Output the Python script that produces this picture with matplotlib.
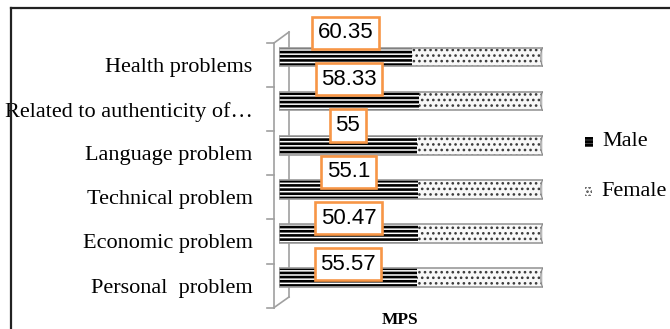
import matplotlib
matplotlib.use("Agg")
import matplotlib.pyplot as plt
from matplotlib.patches import Rectangle, Ellipse
from matplotlib.lines import Line2D
import numpy as np

categories = ["Personal  problem", "Economic problem", "Technical problem",
              "Language problem", "Related to authenticity of\u2026", "Health problems"]
male = [55.57, 50.47, 55.1, 55, 58.33, 60.35]
female = [50.9, 45.3, 49.5, 50.4, 51.7, 59.6]
label_text = ["55.57", "50.47", "55.1", "55", "58.33", "60.35"]
legend_labels = ["Male", "Female"]
axis_title = "MPS"

W, H = 670, 329
fig = plt.figure(figsize=(W / 100, H / 100), dpi=100)
ax = fig.add_axes([279 / W, 1 - 307.6 / H, 264 / W, 264.6 / H])

male = np.array(male, dtype=float)
female = np.array(female, dtype=float)
tot = male + female
mp = male / tot * 100
fp = female / tot * 100
y = np.arange(len(categories))
yb = y + 0.18
bh = 0.42


def set_hlw(patches, lw):
    for p in patches:
        try:
            p.set_hatch_linewidth(lw)
        except AttributeError:
            pass


plt.rcParams['hatch.linewidth'] = 1.9
mb = ax.barh(yb, mp, height=bh, color="white", edgecolor="black", linewidth=0, hatch="----", zorder=2)
set_hlw(mb, 1.9)
plt.rcParams['hatch.linewidth'] = 1.1
fb = ax.barh(yb, fp, left=mp, height=bh, color="#f8f8f8", edgecolor="#3a3a3a", linewidth=0, hatch="...", zorder=2)
set_hlw(fb, 1.1)
# outlines (cylinder rim)
ax.barh(yb, mp + fp, height=bh, color="none", edgecolor="#9a9a9a", linewidth=1.2, zorder=3)
for yi, t in zip(yb, mp + fp):
    ax.add_patch(Ellipse((t, yi), 1.6, bh, facecolor="#e6e6e6", edgecolor="#8a8a8a", linewidth=0.8, zorder=3))

# data labels
for i, (yi, m, txt) in enumerate(zip(yb, mp, label_text)):
    off = 0.30 + 0.05 * i
    ax.text(m / 2, yi + off, txt, ha="center", va="center", fontsize=16,
            family="Liberation Sans", zorder=5,
            bbox=dict(boxstyle="square,pad=0.25", facecolor="white", edgecolor="#F79646", linewidth=1.9))

ax.set_xlim(0, 100)
ax.set_ylim(-0.5, len(categories) - 0.5)
ax.set_yticks(y)
ax.set_yticklabels(categories, family="Liberation Serif", fontsize=16)
ax.tick_params(axis="y", length=0, pad=19)
ax.tick_params(axis="x", length=0, labelbottom=False)
for s in ax.spines.values():
    s.set_visible(False)
ax.set_facecolor("none")

# 3D-style wall lines
tr = ax.transAxes
gc = "#a0a0a0"
fx = 10 / 264
bx = -5 / 264
y_lo = (307.6 - 297) / 264.6
y_hi = (307.6 - 32) / 264.6
ax.add_line(Line2D([fx, fx], [y_lo, y_hi], transform=tr, color=gc, lw=1.2, clip_on=False, zorder=1))
ax.add_line(Line2D([bx, bx], [0, 1], transform=tr, color=gc, lw=1.2, clip_on=False, zorder=1))
ax.add_line(Line2D([bx, fx], [1, y_hi], transform=tr, color=gc, lw=1.2, clip_on=False, zorder=1))
ax.add_line(Line2D([bx, fx], [0, y_lo], transform=tr, color=gc, lw=1.2, clip_on=False, zorder=1))
for k in range(len(categories) + 1):
    yy = k / len(categories)
    ax.add_line(Line2D([-12 / 264, bx], [yy, yy], transform=tr, color=gc, lw=1.2, clip_on=False, zorder=1))

# axis title
fig.text(400 / W, 1 - 320 / H, axis_title, ha="center", va="center", fontsize=12.5,
         fontweight="bold", family="Liberation Serif")

# legend
plt.rcParams['hatch.linewidth'] = 2.2
r1 = Rectangle((585 / W, 1 - 147 / H), 8 / W, 10 / H, transform=fig.transFigure,
               facecolor="white", edgecolor="black", linewidth=0, hatch="-----")
set_hlw([r1], 2.2)
fig.add_artist(r1)
plt.rcParams['hatch.linewidth'] = 1.2
r2 = Rectangle((585 / W, 1 - 196 / H), 7 / W, 9 / H, transform=fig.transFigure,
               facecolor="white", edgecolor="#444444", linewidth=0, hatch="....")
set_hlw([r2], 1.2)
fig.add_artist(r2)
fig.text(602 / W, 1 - 142 / H, legend_labels[0], ha="left", va="center", fontsize=16,
         family="Liberation Serif")
fig.text(601 / W, 1 - 191 / H, legend_labels[1], ha="left", va="center", fontsize=16,
         family="Liberation Serif")

# outer border (left and top visible)
fig.add_artist(Line2D([11 / W, 11 / W], [0, 1 - 8 / H], transform=fig.transFigure, color="#222222", lw=1.6))
fig.add_artist(Line2D([11 / W, 1], [1 - 8 / H, 1 - 8 / H], transform=fig.transFigure, color="#222222", lw=1.6))

fig.savefig("out.png", dpi=100)
